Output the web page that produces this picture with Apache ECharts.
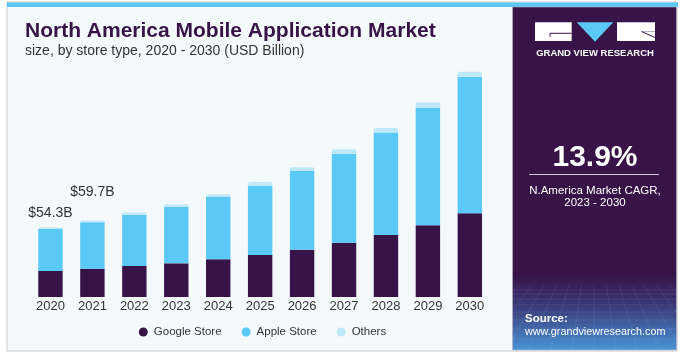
<!DOCTYPE html>
<html>
<head>
<meta charset="utf-8">
<script src="https://cdn.jsdelivr.net/npm/echarts@6/dist/echarts.min.js"></script>
<style>
html,body{margin:0;padding:0;background:#fff;}
#c{width:686px;height:355px;}
</style>
</head>
<body>
<div id="c"></div>
<script>
// ---- data ----
var years = ['2020','2021','2022','2023','2024','2025','2026','2027','2028','2029','2030'];
var googleStore = [20.3, 22.1, 24.2, 26.3, 29.4, 32.8, 37.0, 42.4, 48.4, 56.0, 65.4];
var appleStore  = [32.9, 36.3, 40.0, 44.2, 48.7, 54.1, 61.6, 69.6, 80.2, 91.9, 106.7];
var others      = [1.1, 1.3, 2.0, 1.9, 2.1, 2.9, 2.7, 3.4, 3.4, 4.2, 3.9];
var totalLabels = ['$54.3B', '$59.7B', '', '', '', '', '', '', '', '', ''];
var seriesNames = ['Google Store', 'Apple Store', 'Others'];

var C_GOOGLE = '#371347', C_APPLE = '#5bc9f5', C_OTHERS = '#bfe9fb';
var FONT = '"Liberation Sans", Arial, sans-serif';

var chart = echarts.init(document.getElementById('c'), null, {renderer: 'canvas'});

// decorative mesh on bottom of side panel
var mesh = [];
(function(){
  var px0 = 512.5, px1 = 676.5, yTop = 285, yBot = 350;
  var hs = [290, 294, 299, 305, 312, 320, 329, 339, 349];
  hs.forEach(function(y){
    mesh.push({type:'line', z:101, silent:true,
      shape:{x1:px0, y1:y, x2:px1, y2:y},
      style:{stroke:'rgba(200,225,255,0.13)', lineWidth:0.7}});
  });
  var vpx = 594, vpy = 200;
  for (var i = -10; i <= 10; i++) {
    var bx = vpx + i * 22;
    var t0 = (yTop - vpy) / (yBot - vpy);
    var x0 = vpx + (bx - vpx) * t0;
    var xb = bx;
    var y2 = yBot;
    if (xb < px0) { var tt = (px0 - vpx) / (bx - vpx); y2 = vpy + (yBot - vpy) * tt; xb = px0; }
    if (xb > px1) { var tt2 = (px1 - vpx) / (bx - vpx); y2 = vpy + (yBot - vpy) * tt2; xb = px1; }
    if (y2 <= yTop) continue;
    mesh.push({type:'line', z:101, silent:true,
      shape:{x1:x0, y1:yTop, x2:xb, y2:y2},
      style:{stroke:'rgba(200,225,255,0.12)', lineWidth:0.7}});
  }
})();

var graphics = [
  {type:'rect', z:-10, silent:true, shape:{x:7, y:2, width:670, height:349},
   style:{fill:'#f4f9fc', stroke:'#c8c8c8', lineWidth:1}},
  {type:'rect', z:-9, silent:true, shape:{x:7, y:2.5, width:671, height:4.5},
   style:{fill:'#5bc8f5'}},
  {type:'text', z:50, x:25, y:31, style:{text:'North America Mobile Application Market',
    font:'bold 21px ' + FONT, fill:C_GOOGLE, align:'left', verticalAlign:'middle'}},
  {type:'text', z:50, x:25, y:51.5, style:{text:'size, by store type, 2020 - 2030 (USD Billion)',
    font:'14px ' + FONT, fill:'#333333', align:'left', verticalAlign:'middle'}},
  {type:'rect', z:100, silent:true, shape:{x:512.5, y:7, width:164, height:343},
   style:{fill:new echarts.graphic.LinearGradient(0,0,0,1,[
     {offset:0, color:'#371347'},{offset:0.78, color:'#371347'},
     {offset:0.87, color:'#3a3877'},{offset:1, color:'#4795d6'}]),
     stroke:'#b9b3c2', lineWidth:0.6}},
  {type:'rect', z:102, shape:{x:535, y:22.3, width:36.7, height:18.7}, style:{fill:'#ffffff'}},
  {type:'polyline', z:103, shape:{points:[[571.7,33.3],[550,33.3],[550,36.8]]},
   style:{stroke:C_GOOGLE, lineWidth:1, fill:null}},
  {type:'polygon', z:102, shape:{points:[[576.7,22.3],[613.3,22.3],[595,41.7]]}, style:{fill:'#5bc8f5'}},
  {type:'rect', z:102, shape:{x:617, y:22.3, width:38, height:18.7}, style:{fill:'#ffffff'}},
  {type:'line', z:103, shape:{x1:641.5, y1:31.5, x2:655, y2:37.5}, style:{stroke:C_GOOGLE, lineWidth:1}},
  {type:'line', z:103, shape:{x1:641.5, y1:31.5, x2:655, y2:31.5}, style:{stroke:'#8a7a99', lineWidth:0.6}},
  {type:'text', z:102, x:595, y:53.5, style:{text:'GRAND VIEW RESEARCH',
    font:'bold 9.5px ' + FONT, fill:'#ffffff', align:'center', verticalAlign:'middle'}},
  {type:'text', z:102, x:595, y:158, style:{text:'13.9%',
    font:'bold 30px ' + FONT, fill:'#ffffff', align:'center', verticalAlign:'middle'}},
  {type:'line', z:102, shape:{x1:529, y1:174.5, x2:659, y2:174.5}, style:{stroke:'#cfc6d6', lineWidth:1}},
  {type:'text', z:102, x:595, y:190.7, style:{text:'N.America Market CAGR,',
    font:'11.5px ' + FONT, fill:'#ffffff', align:'center', verticalAlign:'middle'}},
  {type:'text', z:102, x:595, y:202.5, style:{text:'2023 - 2030',
    font:'11.5px ' + FONT, fill:'#ffffff', align:'center', verticalAlign:'middle'}},
  {type:'text', z:102, x:525, y:318.5, style:{text:'Source:',
    font:'bold 11.5px ' + FONT, fill:'#ffffff', align:'left', verticalAlign:'middle'}},
  {type:'text', z:102, x:525, y:331.8, style:{text:'www.grandviewresearch.com',
    font:'10.8px ' + FONT, fill:'#ffffff', align:'left', verticalAlign:'middle'}}
].concat(mesh);

var labelDistances = [7, 21];
var othersData = others.map(function(v, i){
  return {value: v, label: {distance: labelDistances[i] !== undefined ? labelDistances[i] : 7}};
});

var option = {
  animation: false,
  backgroundColor: '#ffffff',
  textStyle: {fontFamily: FONT},
  grid: {left: 29.5, right: 195.2, top: 66.6, bottom: 58, containLabel: false},
  xAxis: {
    type: 'category', data: years,
    axisLine: {show: false}, axisTick: {show: false},
    axisLabel: {fontSize: 13, color: '#333333', margin: 3, fontFamily: FONT}
  },
  yAxis: {
    type: 'value', min: 0, max: 180,
    show: false, splitLine: {show: false}
  },
  legend: {
    data: seriesNames, left: 133.8, top: 321, icon: 'circle',
    itemWidth: 11, itemHeight: 9, itemGap: 20,
    textStyle: {fontSize: 11.5, color: '#333333', fontFamily: FONT}
  },
  series: [
    {name: seriesNames[0], type: 'bar', stack: 'a', barWidth: 24.4, data: googleStore,
     itemStyle: {color: C_GOOGLE}},
    {name: seriesNames[1], type: 'bar', stack: 'a', barWidth: 24.4, data: appleStore,
     itemStyle: {color: C_APPLE}},
    {name: seriesNames[2], type: 'bar', stack: 'a', barWidth: 24.4, data: othersData,
     itemStyle: {color: C_OTHERS, borderRadius: [2, 2, 0, 0]},
     label: {show: true, position: 'top', distance: 7, fontSize: 14, color: '#333333', fontFamily: FONT,
       formatter: function(p){ return totalLabels[p.dataIndex]; }}}
  ],
  graphic: {elements: graphics}
};
chart.setOption(option);
</script>
</body>
</html>
